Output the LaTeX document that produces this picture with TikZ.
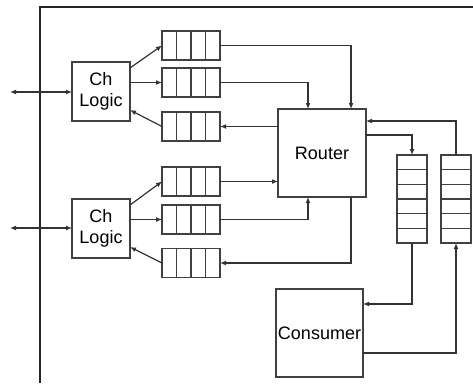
\documentclass[tikz,border=0pt]{standalone}
\usepackage{fontspec}
\setmainfont{Liberation Sans}
\usetikzlibrary{calc,arrows.meta}
\begin{document}
\begin{tikzpicture}[x=1pt,y=-1pt,
  line width=1.2pt,
  every node/.style={inner sep=0pt,outer sep=0pt},
  box/.style={draw=black!75,line width=1.3pt,fill=white,font=\fontsize{18}{21.5}\selectfont,align=center},
  hq/.style={draw=black!75,line width=1.3pt,minimum width=58pt,minimum height=29pt},
  vq/.style={draw=black!75,line width=1.3pt,minimum width=30pt,minimum height=88pt},
  wire/.style={draw=black!80,line width=1.2pt,-{Latex[length=6pt,width=5pt]}},
  biwire/.style={draw=black!80,line width=1.2pt,{Latex[length=6pt,width=5pt]}-{Latex[length=6pt,width=5pt]}},
  frame/.style={draw=black!85,line width=2.4pt}]
\useasboundingbox (0,0) rectangle (473,383);

% enclosing boundary
\draw[frame] (40,383) -- (40,7) -- (473,7);

% channel logic blocks
\node[box,minimum width=58pt,minimum height=59pt] (ch1) at (101,91.5) {Ch\\Logic};
\node[box,minimum width=58pt,minimum height=59pt] (ch2) at (101,228.5) {Ch\\Logic};

% horizontal queues
\node[hq] (q1) at (191,45.5) {};
\node[hq] (q2) at (191,82.5) {};
\node[hq] (q3) at (191,126.5) {};
\node[hq] (q4) at (191,181.5) {};
\node[hq] (q5) at (191,219.5) {};
\node[hq] (q6) at (191,263) {};
\foreach \q in {q1,q2,q3,q4,q5,q6}
  \foreach \f in {0.25,0.5,0.75}
    \draw[black!75,line width=1.3pt] ($(\q.north west)!\f!(\q.north east)$) -- ($(\q.south west)!\f!(\q.south east)$);

% router and consumer
\node[box,minimum width=88pt,minimum height=88pt] (router) at (322,153) {Router};
\node[box,minimum width=87pt,minimum height=88pt] (consumer) at (319.5,333) {Consumer};

% vertical queues
\node[vq] (vq1) at (412,199) {};
\node[vq] (vq2) at (456,199) {};
\foreach \q in {vq1,vq2}
  \foreach \f in {1,...,5}
    \draw[black!75,line width=1.3pt] ($(\q.north west)!\f/6!(\q.south west)$) -- ($(\q.north east)!\f/6!(\q.south east)$);

% external links
\coordinate (ext1) at (10,92);
\coordinate (ext2) at (10,228);
\draw[biwire] (ext1) -- (ext1 -| ch1.west);
\draw[biwire] (ext2) -- (ext2 -| ch2.west);

% channel logic to queues
\draw[wire] ($(ch1.north east)+(0,6)$) -- (q1.west);
\draw[wire] (ch1.east |- q2.west) -- (q2.west);
\draw[wire] (q3.west) -- ($(ch1.south east)+(0,-11)$);
\draw[wire] ($(ch2.north east)+(0,6)$) -- (q4.west);
\draw[wire] (ch2.east |- q5.west) -- (q5.west);
\draw[wire] (q6.west) -- ($(ch2.south east)+(0,-11)$);

% queues to router
\draw[wire] (q1.east) -| ($(router.north east)+(-15,0)$);
\draw[wire] (q2.east) -| ($(router.north west)+(30,0)$);
\draw[wire] (router.west |- q3.east) -- (q3.east);
\draw[wire] (q4.east) -- (router.west |- q4.east);
\draw[wire] (q5.east) -| ($(router.south west)+(30,0)$);
\draw[wire] ($(router.south east)+(-15,0)$) |- (q6.east);

% router, vertical queues and consumer
\draw[wire] ($(router.north east)+(0,26)$) -| (vq1.north);
\draw[wire] (vq2.north) |- ($(router.north east)+(0,12)$);
\draw[wire] (vq1.south) |- ($(consumer.north east)+(0,15)$);
\draw[wire] ($(consumer.south east)+(0,-24)$) -| (vq2.south);
\end{tikzpicture}
\end{document}
